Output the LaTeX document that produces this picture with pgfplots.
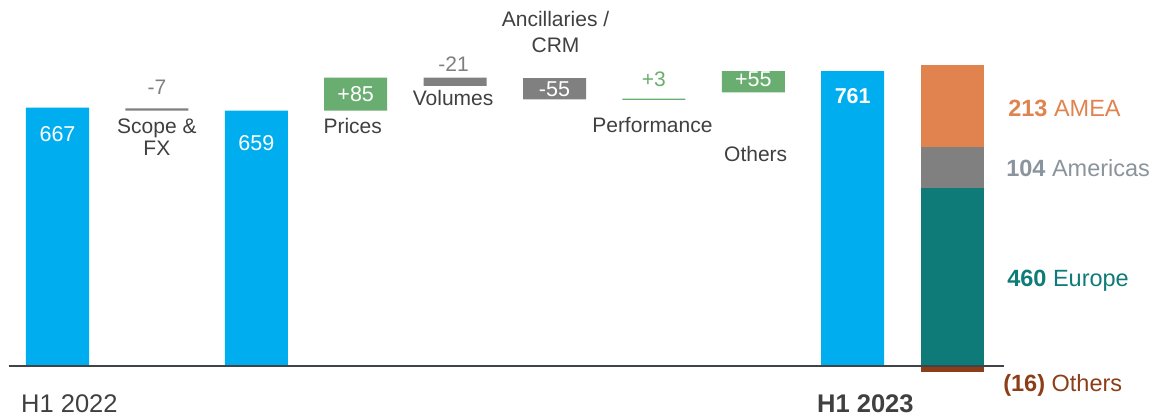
\documentclass[border=0pt]{standalone}
\usepackage{pgfplots}
\pgfplotsset{compat=1.18}
\usepackage{fontspec}
\setmainfont{Liberation Sans}
\definecolor{cblue}{HTML}{00AEEF}
\definecolor{cgreen}{HTML}{6AAD70}
\definecolor{cgray}{HTML}{808080}
\definecolor{corange}{HTML}{E0834F}
\definecolor{cteal}{HTML}{0F7B78}
\definecolor{cbrown}{HTML}{8B3E18}
\definecolor{ctext}{HTML}{404040}
\definecolor{clabgray}{HTML}{7F7F7F}
\definecolor{camer}{HTML}{8A949C}
\definecolor{cline}{HTML}{3F4448}
\tikzset{
  lab/.style={inner sep=0pt, anchor=base, text=ctext, font=\fontsize{21}{25}\selectfont},
  inbar/.style={inner sep=0pt, anchor=base, text=white, font=\fontsize{21.5}{25}\selectfont},
  side/.style={inner sep=0pt, anchor=base west, font=\fontsize{23.5}{27}\selectfont},
  hlab/.style={inner sep=0pt, anchor=base west, text=ctext, font=\fontsize{25.5}{30}\selectfont},
}
\begin{document}
\begin{tikzpicture}
\begin{axis}[
  scale only axis, width=1154pt, height=419pt,
  xmin=-0.5785, xmax=11.031, ymin=-136.8, ymax=944.5,
  hide axis, clip=false,
  ybar stacked, bar width=0.634,
  every axis plot/.append style={draw=none},
]
% Others (negative part of the regional split)
\addplot[fill=cbrown] coordinates {(0,0) (1,0) (2,0) (3,0) (4,0) (5,0) (6,0) (7,0) (8,0) (9,-16)};
% invisible base of the floating bars
\addplot[fill=none] coordinates {(0,0) (1,659) (2,0) (3,659) (4,723) (5,688) (6,687) (7,706) (8,0) (9,0)};
% totals
\addplot[fill=cblue] coordinates {(0,667) (1,0) (2,659) (3,0) (4,0) (5,0) (6,0) (7,0) (8,761) (9,0)};
% negative steps
\addplot[fill=cgray] coordinates {(0,0) (1,6) (2,0) (3,0) (4,21) (5,55) (6,0) (7,0) (8,0) (9,0)};
% positive steps
\addplot[fill=cgreen] coordinates {(0,0) (1,0) (2,0) (3,85) (4,0) (5,0) (6,3) (7,55) (8,0) (9,0)};
% regional split
\addplot[fill=cteal] coordinates {(0,0) (1,0) (2,0) (3,0) (4,0) (5,0) (6,0) (7,0) (8,0) (9,460)};
\addplot[fill=cgray] coordinates {(0,0) (1,0) (2,0) (3,0) (4,0) (5,0) (6,0) (7,0) (8,0) (9,104)};
\addplot[fill=corange] coordinates {(0,0) (1,0) (2,0) (3,0) (4,0) (5,0) (6,0) (7,0) (8,0) (9,213)};

\coordinate (bl0) at (axis cs:-0.491,0);
\coordinate (bl1) at (axis cs:9.522,0);
\coordinate (t1) at (axis cs:0,578.8);
\coordinate (t2) at (axis cs:2.0,555.6);
\coordinate (t3) at (axis cs:1.0,699.4);
\coordinate (t4) at (axis cs:1.0,600.5);
\coordinate (t5) at (axis cs:1.0,544.5);
\coordinate (t6) at (axis cs:3.0,681.9);
\coordinate (t7) at (axis cs:2.97,600.5);
\coordinate (t8) at (axis cs:3.984,759.5);
\coordinate (t9) at (axis cs:3.98,671);
\coordinate (t10) at (axis cs:5.0,695);
\coordinate (t11) at (axis cs:5.01,875.6);
\coordinate (t12) at (axis cs:5.01,808.5);
\coordinate (t13) at (axis cs:5.999,720.8);
\coordinate (t14) at (axis cs:5.985,602);
\coordinate (t15) at (axis cs:7.0,720.8);
\coordinate (t16) at (axis cs:7.024,529);
\coordinate (t17) at (axis cs:8.0,678);
\coordinate (t18) at (axis cs:9.563,643.4);
\coordinate (t19) at (axis cs:9.543,490.3);
\coordinate (t20) at (axis cs:9.553,204.6);
\coordinate (t21) at (axis cs:9.513,-66.3);
\coordinate (t22) at (axis cs:-0.367,-120.5);
\coordinate (t23) at (axis cs:7.641,-120.5);
\end{axis}
\draw[cline, line width=1.8pt] (bl0) -- (bl1);
\node[inbar] at (t1) {667};
\node[inbar] at (t2) {659};
\node[lab, text=clabgray] at (t3) {-7};
\node[lab] at (t4) {Scope \&};
\node[lab] at (t5) {FX};
\node[inbar] at (t6) {+85};
\node[lab] at (t7) {Prices};
\node[lab, text=clabgray] at (t8) {-21};
\node[lab] at (t9) {Volumes};
\node[inbar] at (t10) {-55};
\node[lab] at (t11) {Ancillaries /};
\node[lab] at (t12) {CRM};
\node[lab, text=cgreen] at (t13) {+3};
\node[lab] at (t14) {Performance};
\node[inbar] at (t15) {+55};
\node[lab] at (t16) {Others};
\node[inbar] at (t17) {\bfseries 761};
\node[side, text=corange] at (t18) {\bfseries 213\mdseries{} AMEA};
\node[side, text=camer] at (t19) {\bfseries 104\mdseries{} Americas};
\node[side, text=cteal] at (t20) {\bfseries 460\mdseries{} Europe};
\node[side, text=cbrown] at (t21) {\bfseries (16)\mdseries{} Others};
\node[hlab] at (t22) {H1 2022};
\node[hlab] at (t23) {\bfseries H1 2023};
\pgfresetboundingbox
\path[use as bounding box] (current axis.south west) rectangle (current axis.north east);
\end{tikzpicture}
\end{document}
